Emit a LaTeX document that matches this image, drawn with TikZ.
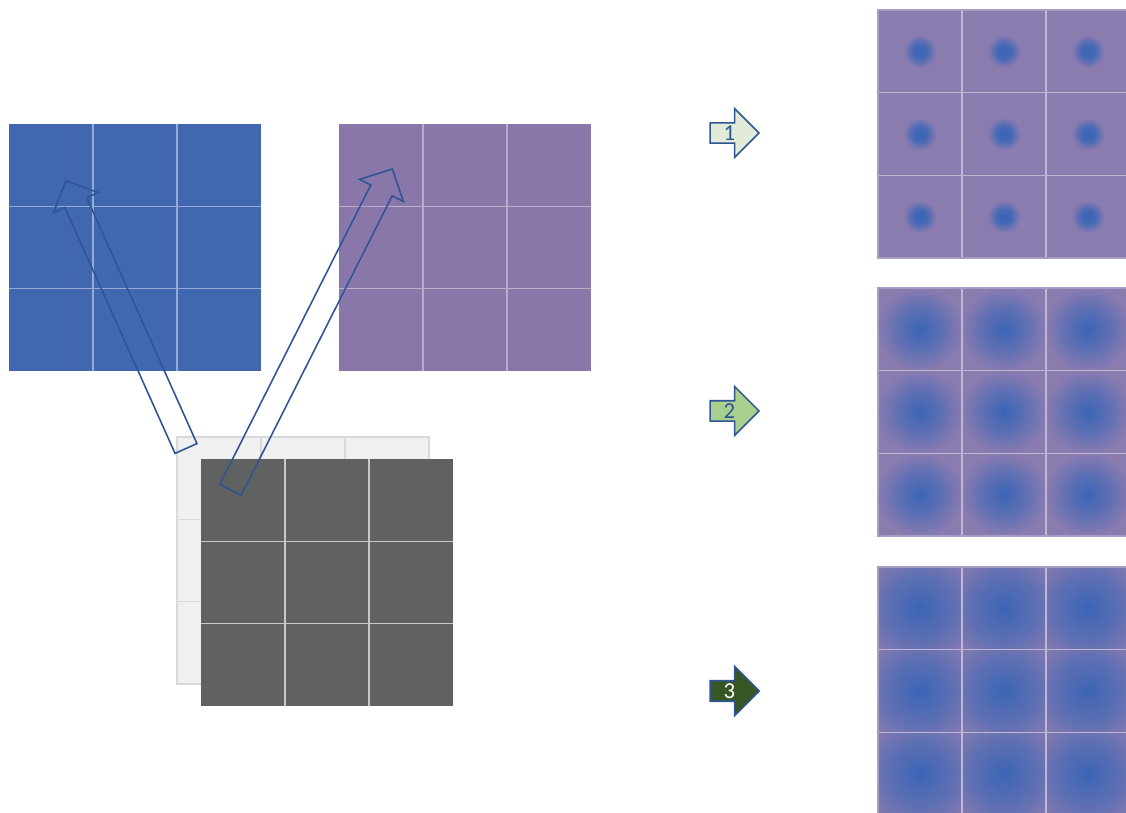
\documentclass[tikz,border=0pt]{standalone}
\usepackage{fontspec}
\setmainfont{Carlito}
\usetikzlibrary{calc,shapes.arrows}

\definecolor{inblue}{RGB}{64,103,175}
\definecolor{mapviolet}{RGB}{138,119,170}
\definecolor{backgray}{RGB}{240,240,240}
\definecolor{backline}{RGB}{217,217,217}
\definecolor{frontgray}{RGB}{96,97,97}
\definecolor{spotblue}{RGB}{59,101,182}
\definecolor{spotviolet}{RGB}{139,124,176}
\definecolor{arrowline}{RGB}{47,85,151}
\definecolor{stepone}{RGB}{226,235,218}
\definecolor{steptwo}{RGB}{169,208,142}
\definecolor{stepthree}{RGB}{55,86,35}

% radial spots, 25bp = half a cell
\pgfdeclareradialshading{spotsmall}{\pgfpoint{0bp}{0bp}}{color(0bp)=(spotblue); color(4bp)=(spotblue!90!spotviolet); color(10bp)=(spotviolet); color(50bp)=(spotviolet)}
\pgfdeclareradialshading{spotmid}{\pgfpoint{0bp}{0bp}}{color(0bp)=(spotblue); color(13bp)=(spotblue!55!spotviolet); color(26bp)=(spotviolet); color(50bp)=(spotviolet)}
\pgfdeclareradialshading{spotwide}{\pgfpoint{0bp}{0bp}}{color(0bp)=(spotblue); color(20bp)=(spotblue!55!spotviolet); color(38bp)=(spotviolet); color(50bp)=(spotviolet)}

\tikzset{
  gridbox/.style={rectangle, inner sep=0pt, outer sep=0pt, minimum width=5.04cm, minimum height=4.94cm, anchor=north west},
  gridline/.style={line width=0.6pt},
  bigarrow/.style={draw=arrowline, line width=0.9pt, line join=miter},
  steparrow/.style={single arrow, draw=arrowline, line width=0.9pt, inner sep=0pt,
    minimum height=0.98cm, minimum width=0.98cm, single arrow head extend=0.23cm,
    font=\fontsize{13}{15}\selectfont}
}

% inner lines of a 3x3 grid node
\newcommand{\cellgrid}[2]{%
  \foreach \k in {1,2} {
    \draw[gridline, #2] ($(#1.north west)!\k/3!(#1.north east)$) -- ($(#1.south west)!\k/3!(#1.south east)$);
    \draw[gridline, #2] ($(#1.north west)!\k/3!(#1.south west)$) -- ($(#1.north east)!\k/3!(#1.south east)$);
  }}

% shaded 3x3 grid node
\newcommand{\spotgrid}[2]{%
  \foreach \i in {0,1,2}
    \foreach \j in {0,1,2}
      \shade[shading=#2] ($(#1.north west)+(1.68*\i,-1.6533*\j)$) rectangle ++(1.68,-1.6533);
  \cellgrid{#1}{white!45!spotviolet}
  \draw[gridline, white!25!spotviolet] (#1.north west) rectangle (#1.south east);}

% block arrow from tail to tip
\newcommand{\blockarrow}[2]{%
  \coordinate (ba-base) at ($(#2)!0.48cm!(#1)$);
  \draw[bigarrow] ($(#1)!0.24cm!90:(#2)$) -- ($(ba-base)!0.24cm!-90:(#1)$)
    -- ($(ba-base)!0.49cm!-90:(#1)$) -- (#2) -- ($(ba-base)!0.49cm!90:(#1)$)
    -- ($(ba-base)!0.24cm!90:(#1)$) -- ($(#1)!0.24cm!-90:(#2)$) -- cycle;}

\begin{document}
\begin{tikzpicture}

  \useasboundingbox (0,0) rectangle (22.52,16.26);

  % --- Two maps on top ---
  \node[gridbox, fill=inblue] (inA) at (0.18,13.78) {};
  \cellgrid{inA}{white!45!inblue}
  \node[gridbox, fill=mapviolet] (inB) at (6.78,13.78) {};
  \cellgrid{inB}{white!40!mapviolet}

  % --- Stack of kernels ---
  \node[gridbox, fill=backgray, draw=backline, line width=0.6pt] (back) at (3.54,7.52) {};
  \cellgrid{back}{backline}
  \node[gridbox, fill=frontgray] (front) at (4.02,7.08) {};
  \cellgrid{front}{white!65!frontgray}

  % --- Results ---
  \node[gridbox, minimum height=4.96cm] (outA) at (17.56,16.06) {};
  \spotgrid{outA}{spotsmall}
  \node[gridbox, minimum height=4.96cm] (outB) at (17.56,10.50) {};
  \spotgrid{outB}{spotmid}
  \node[gridbox, minimum height=4.96cm] (outC) at (17.56,4.92) {};
  \spotgrid{outC}{spotwide}

  % --- Numbered arrows ---
  \node[steparrow, fill=stepone, text=arrowline] (stepA) at (14.59,13.60) {1};
  \node[steparrow, fill=steptwo, text=arrowline] (stepB) at (14.59,8.04) {2};
  \node[steparrow, fill=stepthree, text=white] (stepC) at (14.59,2.44) {3};

  % --- Arrows from the stack to the maps ---
  \coordinate (tailA) at (3.72,7.29);
  \coordinate (tipA) at (1.32,12.646);
  \coordinate (tailB) at (4.61,6.464);
  \coordinate (tipB) at (7.846,12.88);
  \blockarrow{tailA}{tipA}
  \blockarrow{tailB}{tipB}

\end{tikzpicture}
\end{document}
